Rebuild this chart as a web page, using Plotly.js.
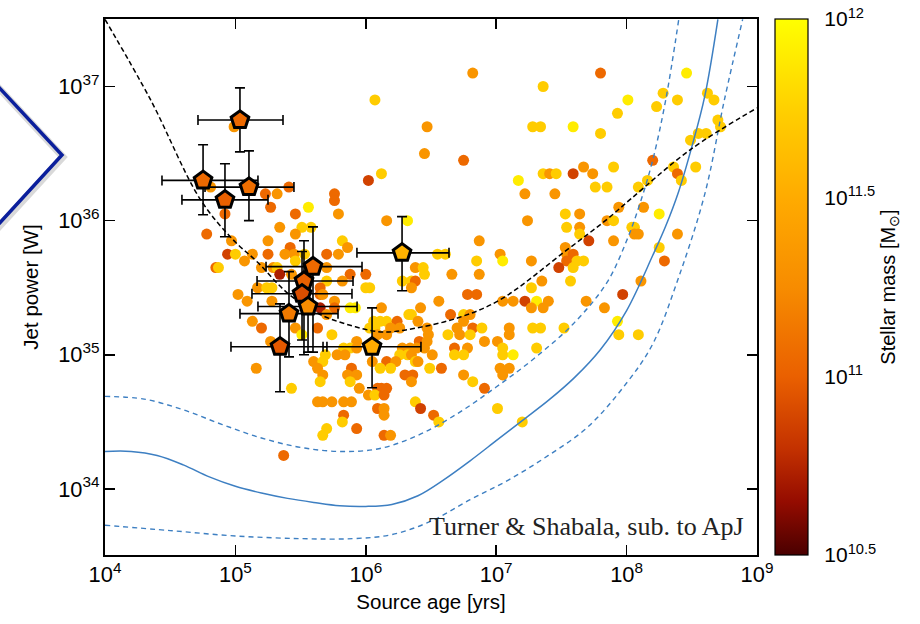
<!DOCTYPE html>
<html>
<head>
<meta charset="utf-8">
<script src="https://cdn.plot.ly/plotly-3.0.1.min.js"></script>
<style>
  html, body { margin: 0; padding: 0; background: #ffffff; }
  #chart { width: 920px; height: 624px; }
</style>
</head>
<body>
<div id="chart"></div>
<script>
// stellar-mass shorthands (log10 M/Msun)
const Y = 11.9, L = 11.72, O = 11.32, D = 11.05, R = 10.87, K = 10.72;

// Radio sources: log10 source age [yr]
const ageLog = [
  6.82,7.80,8.46,
  7.36,
  8.28,8.62,
  6.07,8.39,8.67,8.01,
  8.23,
  7.93,
  8.70,
  6.47,7.28,7.34,7.59,8.72,4.99,
  7.80,8.55,8.61,
  8.49,
  6.45,
  6.75,8.20,
  7.67,7.90,8.36,8.53,
  6.12,7.36,7.41,7.46,7.59,7.74,8.39,
  6.02,7.17,8.42,8.16,
  4.81,5.41,7.76,7.85,8.09,
  5.23,5.32,5.76,7.22,7.45,
  5.76,
  5.27,5.56,7.94,8.13,
  4.92,5.46,5.79,7.53,7.64,8.25,
  6.16,6.32,7.24,7.85,7.90,
  5.34,5.51,5.58,7.54,7.64,8.04,8.06,
  4.78,5.46,7.64,8.06,8.09,8.39,
  4.97,5.25,5.82,6.87,7.71,7.90,
  5.42,5.86,7.53,8.25,
  4.94,5.00,5.13,5.25,5.38,5.45,5.53,5.70,5.79,6.55,6.61,7.03,7.54,7.59,
  5.07,5.46,6.85,7.05,7.27,7.54,7.62,7.67,8.29,
  4.85,4.87,5.20,5.29,5.32,5.70,6.38,6.44,7.48,7.59,
  5.34,5.43,5.88,6.00,6.45,6.66,6.87,
  5.70,5.82,6.28,6.35,6.38,7.35,7.57,8.11,
  5.17,5.24,5.28,5.65,6.00,6.03,6.35,7.27,
  5.02,5.65,5.67,6.78,6.85,7.97,
  5.09,5.28,5.76,6.56,7.05,7.13,7.22,7.31,7.40,7.69,
  5.65,5.76,5.88,5.92,6.12,6.42,7.27,7.36,7.83,
  5.70,6.33,6.35,6.65,6.75,6.80,
  5.13,6.06,6.11,6.16,6.24,6.40,6.75,7.93,
  5.20,5.46,5.63,6.03,6.07,6.19,6.26,6.47,6.70,6.82,6.89,7.10,7.28,7.34,7.52,
  5.51,5.74,6.09,6.16,6.48,6.63,6.72,6.80,7.10,7.94,8.09,
  5.27,5.93,6.41,6.47,6.91,7.01,
  5.83,5.88,5.93,6.28,6.34,6.39,6.45,6.68,6.78,7.05,7.31,
  5.69,5.78,5.84,6.26,6.32,6.35,6.51,6.68,6.75,7.05,7.13,
  5.60,5.67,6.05,6.16,6.23,6.38,6.40,
  5.16,5.63,5.89,6.11,6.19,6.49,6.58,7.03,7.10,
  5.67,5.86,5.93,6.30,6.36,6.75,7.05,
  5.65,5.88,6.35,6.82,
  5.43,5.95,6.09,6.12,6.16,6.91,
  6.02,6.07,6.14,
  5.63,5.67,5.74,5.83,5.89,6.38,
  7.01,6.09,6.14,6.42,
  5.83,6.14,6.52,
  5.82,6.56,7.20,
  5.70,5.93,
  5.67,6.14,6.19,
  5.37
];

// Radio sources: log10 jet power [W]
const powerLog = [
  37.10,37.10,37.10,
  37.00,
  36.95,36.95,
  36.90,36.90,36.90,36.90,
  36.85,
  36.80,
  36.75,
  36.70,36.70,36.70,36.70,36.70,36.70,
  36.65,36.65,36.65,
  36.60,
  36.50,
  36.45,36.45,
  36.40,36.40,36.40,36.40,
  36.35,36.35,36.35,36.35,36.35,36.35,36.35,
  36.30,36.30,36.30,36.30,
  36.25,36.25,36.25,36.25,36.25,
  36.20,36.20,36.20,36.20,36.20,
  36.15,
  36.10,36.10,36.10,36.10,
  36.05,36.05,36.05,36.05,36.05,36.05,
  36.00,36.00,36.00,36.00,36.00,
  35.95,35.95,35.95,35.95,35.95,35.95,35.95,
  35.90,35.90,35.90,35.90,35.90,35.90,
  35.85,35.85,35.85,35.85,35.85,35.85,
  35.80,35.80,35.80,35.80,
  35.75,35.75,35.75,35.75,35.75,35.75,35.75,35.75,35.75,35.75,35.75,35.75,35.75,35.75,
  35.70,35.70,35.70,35.70,35.70,35.70,35.70,35.70,35.70,
  35.65,35.65,35.65,35.65,35.65,35.65,35.65,35.65,35.65,35.65,
  35.60,35.60,35.60,35.60,35.60,35.60,35.60,
  35.55,35.55,35.55,35.55,35.55,35.55,35.55,35.55,
  35.50,35.50,35.50,35.50,35.50,35.50,35.50,35.50,
  35.45,35.45,35.45,35.45,35.45,35.45,
  35.40,35.40,35.40,35.40,35.40,35.40,35.40,35.40,35.40,35.40,
  35.35,35.35,35.35,35.35,35.35,35.35,35.35,35.35,35.35,
  35.30,35.30,35.30,35.30,35.30,35.30,
  35.25,35.25,35.25,35.25,35.25,35.25,35.25,35.25,
  35.20,35.20,35.20,35.20,35.20,35.20,35.20,35.20,35.20,35.20,35.20,35.20,35.20,35.20,35.20,
  35.15,35.15,35.15,35.15,35.15,35.15,35.15,35.15,35.15,35.15,35.15,
  35.10,35.10,35.10,35.10,35.10,35.10,
  35.05,35.05,35.05,35.05,35.05,35.05,35.05,35.05,35.05,35.05,35.05,
  35.00,35.00,35.00,35.00,35.00,35.00,35.00,35.00,35.00,35.00,35.00,
  34.95,34.95,34.95,34.95,34.95,34.95,34.95,
  34.90,34.90,34.90,34.90,34.90,34.90,34.90,34.90,34.90,
  34.85,34.85,34.85,34.85,34.85,34.85,34.85,
  34.80,34.80,34.80,34.80,
  34.75,34.75,34.75,34.75,34.75,34.75,
  34.70,34.70,34.70,
  34.65,34.65,34.65,34.65,34.65,34.65,
  34.60,34.60,34.60,34.60,
  34.55,34.55,34.55,
  34.50,34.50,34.50,
  34.45,34.45,
  34.40,34.40,34.40,
  34.25
];

// Radio sources: log10 host stellar mass
const massLog = [
  O,D,Y,
  L,
  L,L,
  L,L,L,Y,
  L,
  L,
  L,
  O,L,L,Y,L,O,
  L,L,L,
  L,
  O,
  D,D,
  O,L,L,L,
  L,L,O,L,R,O,D,
  R,Y,L,L,
  O,D,L,L,L,
  D,O,D,O,O,
  D,
  D,Y,O,O,
  D,D,O,L,O,Y,
  O,Y,O,O,L,
  O,L,L,L,O,L,L,
  D,O,L,O,O,O,
  O,O,L,O,R,O,
  D,O,O,L,
  R,L,O,D,O,O,L,D,O,L,L,O,O,D,
  O,L,L,Y,O,D,L,L,D,
  D,L,O,O,L,O,O,L,R,L,
  K,O,D,D,L,O,O,
  L,O,L,L,D,O,L,O,
  O,L,L,D,L,L,O,L,
  O,D,O,D,D,R,
  O,O,O,O,O,O,R,Y,O,O,
  K,D,Y,Y,O,O,O,O,O,
  O,L,L,D,L,O,
  O,L,L,L,D,O,O,Y,
  D,O,D,L,L,O,O,O,O,D,L,O,L,L,L,
  Y,L,O,O,O,L,O,L,O,L,L,
  O,O,D,O,O,O,
  L,L,O,O,O,O,O,D,O,L,L,
  L,O,O,L,L,O,O,L,L,L,Y,
  O,L,O,D,O,L,O,
  O,O,D,L,L,L,D,O,O,
  O,O,O,D,D,O,O,
  L,L,O,L,
  L,O,D,D,D,D,
  O,L,D,
  O,O,O,O,O,L,
  L,D,O,R,
  D,O,D,
  L,L,L,
  L,D,
  L,D,O,
  D
];

// Highlighted sources (pentagons): log10 values with error ranges
const pAge    = [5.035, 4.752, 5.104, 4.920, 6.278, 5.595, 5.526, 5.511, 5.557, 5.411, 5.342, 6.048];
const pAgeLo  = [4.713, 4.437, 4.767, 4.590, 5.932, 5.235, 5.166, 5.127, 5.173, 5.035, 4.966, 5.672];
const pAgeHi  = [5.365, 5.173, 5.449, 5.250, 6.638, 5.971, 5.902, 5.894, 5.933, 5.787, 5.702, 6.423];
const pPow    = [36.75, 36.30, 36.25, 36.155, 35.76, 35.657, 35.55, 35.455, 35.36, 35.307, 35.06, 35.06];
const pPowLo  = [36.513, 36.044, 36.00, 35.88, 35.477, 35.02, 35.00, 35.11, 35.02, 34.985, 34.725, 34.755];
const pPowHi  = [36.99, 36.566, 36.52, 36.424, 36.03, 35.954, 35.85, 35.77, 35.67, 35.62, 35.38, 35.35];
const pMass   = [11.05, 11.05, 11.08, 11.0, 11.55, 11.05, 11.0, 10.92, 11.25, 11.15, 10.97, 11.5];

// Model curves (log10 age, log10 jet power)
const fitAge  = [4.0, 4.35, 4.73, 4.98, 5.17, 5.40, 5.63, 5.88, 6.13, 6.39, 6.72, 7.03, 7.54, 7.85, 8.03, 8.49, 9.0];
const fitPow  = [37.50, 36.90, 36.16, 35.86, 35.69, 35.46, 35.31, 35.22, 35.17, 35.20, 35.28, 35.41, 35.78, 36.01, 36.16, 36.53, 36.84];

const limAge  = [4.0, 4.2, 4.4, 4.6, 4.8, 5.0, 5.2, 5.4, 5.6, 5.8, 6.0, 6.2, 6.4, 6.6, 6.8, 7.0, 7.2, 7.4, 7.6, 7.8, 8.0, 8.2, 8.3, 8.4, 8.5, 8.6, 8.7];
const limPow  = [34.28, 34.28, 34.25, 34.18, 34.09, 34.02, 33.97, 33.93, 33.90, 33.875, 33.87, 33.885, 33.95, 34.07, 34.21, 34.36, 34.51, 34.66, 34.83, 35.04, 35.33, 35.74, 35.96, 36.22, 36.55, 36.93, 37.50];

const limUpAge = [4.0, 4.3, 4.6, 4.9, 5.2, 5.5, 5.8, 6.1, 6.4, 6.7, 7.0, 7.3, 7.6, 7.85, 8.0, 8.1, 8.2, 8.3, 8.4];
const limUpPow = [34.69, 34.67, 34.59, 34.48, 34.38, 34.31, 34.28, 34.30, 34.40, 34.56, 34.76, 34.98, 35.24, 35.54, 35.85, 36.12, 36.45, 36.90, 37.50];

const limLoAge = [4.0, 4.5, 5.0, 5.5, 5.9, 6.2, 6.5, 6.8, 7.1, 7.4, 7.7, 8.0, 8.2, 8.4, 8.6, 8.75, 8.89];
const limLoPow = [33.73, 33.69, 33.65, 33.63, 33.63, 33.66, 33.76, 33.92, 34.07, 34.25, 34.46, 34.79, 35.08, 35.58, 36.20, 36.90, 37.50];

const massTickVals = [10.5, 11, 11.5, 12];
const massTickText = ['10<sup>10.5</sup>', '10<sup>11</sup>', '10<sup>11.5</sup>', '10<sup>12</sup>'];

const pow10 = a => a.map(v => Math.pow(10, v));

const heat = [
  [0.0, '#4a0000'], [0.1, '#950c00'], [0.2, '#c43200'], [0.333, '#ea6000'],
  [0.5, '#f78c00'], [0.667, '#ffab00'], [0.833, '#ffd000'], [1.0, '#ffff00']
];

const FONT = 'Liberation Sans, Arial, Helvetica, sans-serif';

const pX = pow10(pAge), pY = pow10(pPow);
const errXp = pAgeHi.map((v, i) => Math.pow(10, v) - pX[i]);
const errXm = pAgeLo.map((v, i) => pX[i] - Math.pow(10, v));
const errYp = pPowHi.map((v, i) => Math.pow(10, v) - pY[i]);
const errYm = pPowLo.map((v, i) => pY[i] - Math.pow(10, v));

const traces = [
  {
    type: 'scatter', mode: 'markers',
    x: pow10(ageLog), y: pow10(powerLog),
    marker: {
      size: 11, color: massLog, colorscale: heat, cmin: 10.5, cmax: 12,
      line: { width: 0 },
      colorbar: {
        x: 1.0276, xanchor: 'left', xpad: 0,
        y: 0.5, yanchor: 'middle', ypad: 0,
        len: 1, lenmode: 'fraction', thickness: 33,
        outlinewidth: 1.2, outlinecolor: '#000',
        tickvals: massTickVals, ticktext: massTickText,
        ticks: 'outside', ticklen: 12, tickwidth: 1, tickcolor: 'rgba(0,0,0,0)',
        tickfont: { family: FONT, size: 21, color: '#000' },
        title: { text: 'Stellar mass [M<sub>⊙</sub>]', side: 'right', font: { family: FONT, size: 20, color: '#000' } }
      }
    },
    showlegend: false, hoverinfo: 'x+y'
  },
  {
    type: 'scatter', mode: 'lines', x: pow10(limUpAge), y: pow10(limUpPow),
    line: { color: '#3d7fc2', width: 1.4, dash: '5px,4px', shape: 'spline', smoothing: 1 },
    showlegend: false, hoverinfo: 'skip'
  },
  {
    type: 'scatter', mode: 'lines', x: pow10(limAge), y: pow10(limPow),
    line: { color: '#3d7fc2', width: 1.5, shape: 'spline', smoothing: 1 },
    showlegend: false, hoverinfo: 'skip'
  },
  {
    type: 'scatter', mode: 'lines', x: pow10(limLoAge), y: pow10(limLoPow),
    line: { color: '#3d7fc2', width: 1.4, dash: '5px,4px', shape: 'spline', smoothing: 1 },
    showlegend: false, hoverinfo: 'skip'
  },
  {
    type: 'scatter', mode: 'lines', x: pow10(fitAge), y: pow10(fitPow),
    line: { color: '#000', width: 1.5, dash: '5px,3px', shape: 'spline', smoothing: 1 },
    showlegend: false, hoverinfo: 'skip'
  },
  {
    type: 'scatter', mode: 'markers', x: pX, y: pY,
    error_x: { type: 'data', symmetric: false, array: errXp, arrayminus: errXm, color: '#000', thickness: 1.6, width: 5 },
    error_y: { type: 'data', symmetric: false, array: errYp, arrayminus: errYm, color: '#000', thickness: 1.6, width: 5 },
    marker: {
      symbol: 'pentagon', size: 18.5, color: pMass, colorscale: heat, cmin: 10.5, cmax: 12,
      showscale: false, line: { color: '#000', width: 3 }
    },
    showlegend: false, hoverinfo: 'x+y'
  }
];

const cbx0 = 1.0276, cbx1 = 1.0276 + 33 / 652, cbw = 7 / 652;
const shapes = [
  // chevron decoration on the left
  { type: 'path', xref: 'paper', yref: 'paper',
    path: 'M -0.1687,0.8787 L -0.0644,0.7425 L -0.1687,0.604',
    line: { color: 'rgba(0,0,0,0.15)', width: 7 }, layer: 'above' },
  { type: 'path', xref: 'paper', yref: 'paper',
    path: 'M -0.1703,0.8825 L -0.0660,0.7462 L -0.1703,0.608',
    line: { color: '#0b1f9c', width: 3.5 }, layer: 'above' }
];
massTickVals.slice(1, 3).forEach(v => {
  const yy = (v - 10.5) / 1.5;
  shapes.push({ type: 'line', xref: 'paper', yref: 'paper', x0: cbx0, x1: cbx0 + cbw, y0: yy, y1: yy,
    line: { color: '#000', width: 1 } });
  shapes.push({ type: 'line', xref: 'paper', yref: 'paper', x0: cbx1 - cbw, x1: cbx1, y0: yy, y1: yy,
    line: { color: '#000', width: 1 } });
});

const layout = {
  width: 920, height: 624,
  margin: { l: 105, r: 163, t: 19, b: 69, pad: 0 },
  paper_bgcolor: '#fff', plot_bgcolor: '#fff',
  font: { family: FONT, color: '#000' },
  xaxis: {
    type: 'log', range: [4, 9], dtick: 1, tick0: 0,
    showgrid: false, zeroline: false,
    showline: true, linecolor: '#000', linewidth: 2, mirror: 'ticks',
    ticks: 'inside', ticklen: 10, tickwidth: 1.6, tickcolor: '#000',
    exponentformat: 'power', tickfont: { family: FONT, size: 17.5, color: '#000' },
    title: { text: 'Source age [yrs]', font: { family: FONT, size: 20.5, color: '#000' }, standoff: 8 }
  },
  yaxis: {
    type: 'log', range: [33.508, 37.503], dtick: 1, tick0: 0,
    showgrid: false, zeroline: false,
    showline: true, linecolor: '#000', linewidth: 2, mirror: 'ticks',
    ticks: 'inside', ticklen: 10, tickwidth: 1.6, tickcolor: '#000',
    exponentformat: 'power', tickfont: { family: FONT, size: 17.5, color: '#000' },
    title: { text: 'Jet power [W]', font: { family: FONT, size: 20.5, color: '#000' }, standoff: 14 }
  },
  annotations: [
    { xref: 'paper', yref: 'paper', x: 0.983, y: 0.053, xanchor: 'right', yanchor: 'middle',
      text: 'Turner &amp; Shabala, sub. to ApJ', showarrow: false,
      font: { family: 'Liberation Serif, DejaVu Serif, serif', size: 26, color: '#222' } }
  ],
  shapes: shapes
};

Plotly.newPlot('chart', traces, layout, { staticPlot: true, displayModeBar: false });
</script>
</body>
</html>
